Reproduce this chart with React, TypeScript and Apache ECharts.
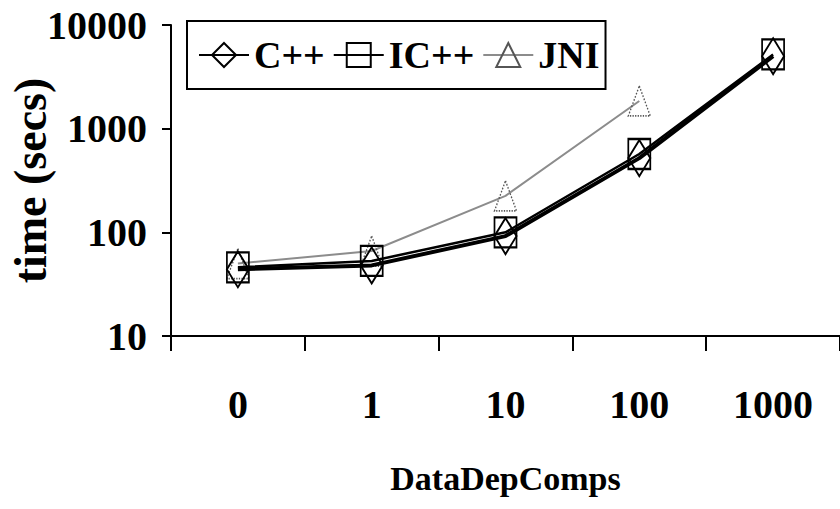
import React, { useEffect, useRef } from "react";
import * as echarts from "echarts";

const categories = ["0", "1", "10", "100", "1000"];
const cppValues = [44, 48, 92, 520, 5000];
const icppValues = [46, 53, 100, 570, 5200];
const jniValues: (number | null)[] = [50, 66, 225, 1850, null];
const seriesNames = ["C++", "IC++", "JNI"];
const yAxisName = "time (secs)";
const xAxisName = "DataDepComps";

const FONT = '"Liberation Serif", "Times New Roman", serif';

export default function App() {
  const ref = useRef<HTMLDivElement>(null);
  useEffect(() => {
    if (!ref.current) return;
    const chart = echarts.init(ref.current, null, { renderer: "svg" });
    const hollow = "rgba(255,255,255,0)";
    chart.setOption({
      animation: false,
      backgroundColor: "#fff",
      textStyle: { fontFamily: FONT, fontWeight: "bold", color: "#000" },
      grid: { left: 171, right: 0, top: 25, bottom: 173, containLabel: false, outerBoundsMode: "none" },
      legend: {
        data: seriesNames,
        left: 187,
        top: 21,
        padding: [15, 6, 15, 11],
        borderColor: "#000",
        borderWidth: 2,
        itemWidth: 50,
        itemHeight: 30,
        itemGap: 8,
        textStyle: { fontFamily: FONT, fontWeight: "bold", fontSize: 38, color: "#000" },
      },
      xAxis: {
        type: "category",
        data: categories,
        boundaryGap: true,
        name: xAxisName,
        nameLocation: "middle",
        nameGap: 125,
        nameMoveOverlap: false,
        nameTextStyle: { fontFamily: FONT, fontWeight: "bold", fontSize: 34, color: "#000" },
        axisLine: { lineStyle: { color: "#000", width: 2 } },
        axisTick: { show: true, length: 15, inside: false, interval: 0, lineStyle: { color: "#000", width: 2 } },
        axisLabel: { fontFamily: FONT, fontWeight: "bold", fontSize: 40, color: "#000", margin: 48, interval: 0 },
        splitLine: { show: false },
      },
      yAxis: {
        type: "log",
        logBase: 10,
        min: 10,
        max: 10000,
        name: yAxisName,
        nameLocation: "middle",
        nameGap: 118,
        nameMoveOverlap: false,
        nameTextStyle: { fontFamily: FONT, fontWeight: "bold", fontSize: 46, color: "#000" },
        axisLine: { show: true, lineStyle: { color: "#000", width: 2 } },
        axisTick: { show: true, length: 9, inside: false, lineStyle: { color: "#000", width: 2 } },
        axisLabel: {
          fontFamily: FONT,
          fontWeight: "bold",
          fontSize: 40,
          color: "#000",
          margin: 24,
          formatter: (v: number) => String(Math.round(v)),
        },
        splitLine: { show: false },
        minorTick: { show: false },
      },
      series: [
        {
          name: seriesNames[0],
          type: "line",
          data: cppValues,
          symbol: "diamond",
          symbolSize: [22, 36],
          z: 3,
          lineStyle: { color: "#000", width: 4 },
          itemStyle: { color: hollow, borderColor: "#000", borderWidth: 2 },
        },
        {
          name: seriesNames[1],
          type: "line",
          data: icppValues,
          symbol: "rect",
          symbolSize: [22, 30],
          z: 4,
          lineStyle: { color: "#000", width: 2.5 },
          itemStyle: { color: hollow, borderColor: "#000", borderWidth: 2 },
        },
        {
          name: seriesNames[2],
          type: "line",
          data: jniValues,
          symbol: "triangle",
          symbolSize: [22, 30],
          z: 2,
          connectNulls: false,
          lineStyle: { color: "#8c8c8c", width: 2 },
          itemStyle: { color: hollow, borderColor: "#555", borderWidth: 1.5, borderType: "dotted" },
        },
      ],
    });
    return () => chart.dispose();
  }, []);
  return (
    <div
      ref={ref}
      style={{ position: "fixed", left: 0, top: 0, width: 840, height: 509, background: "#fff" }}
    />
  );
}
